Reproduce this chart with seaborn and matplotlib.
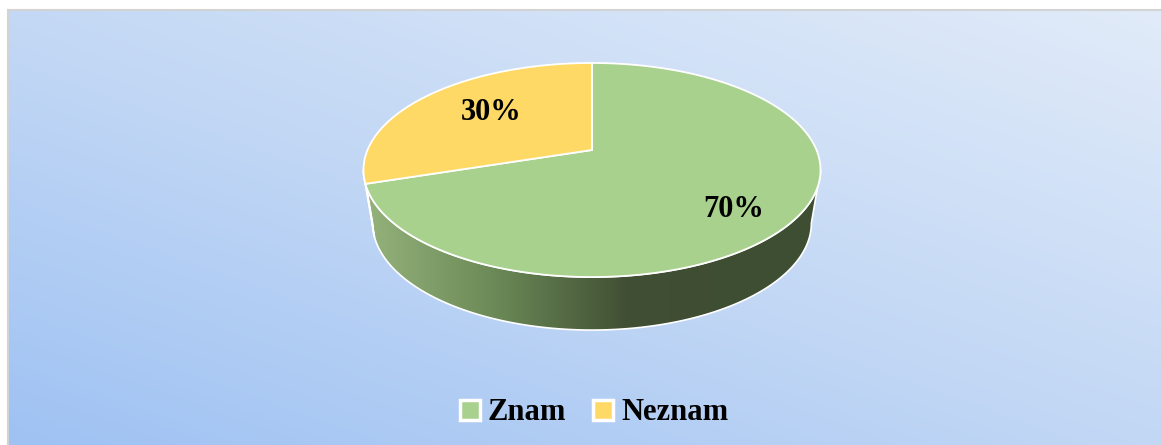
import numpy as np
import matplotlib
matplotlib.use("Agg")
import matplotlib.pyplot as plt
import matplotlib.colors as cl
from matplotlib.patches import Polygon, Patch
import seaborn as sns

# data
labels = ['Znam', 'Neznam']
shares = [70, 30]
colors = ['#a9d18e', '#ffd966']
side_colors = [['#97b47d', '#6b8a57', '#414f34', '#3e4e32'], ['#c8ab55', '#b89a45']]

sns.set_theme(style='white')
plt.rcParams['font.family'] = ['Liberation Serif', 'DejaVu Serif']

W, H = 1161, 445
fig = plt.figure(figsize=(W / 100, H / 100), dpi=100)
fig.patch.set_facecolor('white')

# background panel with diagonal gradient
bg = fig.add_axes([8 / W, 0, 1 - 8 / W, 1 - 10 / H])
xx, yy = np.meshgrid(np.linspace(8, W, 400), np.linspace(10, H, 160))
t = 0.336 * xx - 0.942 * yy
t = (t - t.min()) / (t.max() - t.min())
bg_cmap = cl.LinearSegmentedColormap.from_list('bg', ['#9fc2f3', '#c3d8f5', '#e1ebf9'])
bg.imshow(t, cmap=bg_cmap, aspect='auto', extent=[8, W, H, 10], origin='upper')
bg.set_xticks([]); bg.set_yticks([])
for s in ['right', 'bottom']:
    bg.spines[s].set_visible(False)
for s in ['left', 'top']:
    bg.spines[s].set_color('#d3d3d3')
    bg.spines[s].set_linewidth(1.5)

# pie axes in pixel space
ax = fig.add_axes([0, 0, 1, 1])
ax.set_xlim(0, W); ax.set_ylim(H, 0)
ax.axis('off')
ax.patch.set_alpha(0)

# perspective projection of the tilted disc
cx, cy = 592, 150
a, b, k = 224.5, 103.3, 0.187
depth, shrink = 53, 0.96


def proj(theta, r=1.0):
    u, v = r * np.cos(theta), r * np.sin(theta)
    d = 1 + k * v
    return cx + a * u / d, cy - b * v / d


edges = 90 - np.concatenate([[0], np.cumsum(shares)]) * 3.6   # clockwise from 12 o'clock
sil = np.degrees(np.arcsin(-k))          # right silhouette angle
front = (-180 - sil, sil)                # visible front arc

# side walls
for i in range(len(shares)):
    hi, lo = edges[i], edges[i + 1]
    for sh in (-360, 0, 360):
        s0, s1 = max(lo + sh, front[0]), min(hi + sh, front[1])
        if s1 <= s0:
            continue
        th = np.radians(np.linspace(s0, s1, 120))
        xt, yt = proj(th)
        xb, yb = cx + (xt - cx) * shrink, yt + depth
        pts = np.column_stack([np.r_[xt, xb[::-1]], np.r_[yt, yb[::-1]]])
        poly = Polygon(pts, closed=True, facecolor='none', edgecolor='white', lw=1.2, zorder=3)
        ax.add_patch(poly)
        gx = np.linspace(360, 830, 300)[None, :]
        gcm = cl.LinearSegmentedColormap.from_list('side%d' % i, side_colors[i])
        im = ax.imshow(gx, cmap=gcm, vmin=360, vmax=760, aspect='auto',
                       extent=[360, 830, 345, 140], zorder=2)
        im.set_clip_path(poly)

# top faces
for i in range(len(shares)):
    hi, lo = edges[i], edges[i + 1]
    th = np.radians(np.linspace(hi, lo, 200))
    xt, yt = proj(th)
    pts = np.column_stack([np.r_[cx, xt], np.r_[cy, yt]])
    ax.add_patch(Polygon(pts, closed=True, facecolor=colors[i], edgecolor='white', lw=1.3, zorder=4))

# percentage labels
for i in range(len(shares)):
    mid = np.radians((edges[i] + edges[i + 1]) / 2 - 5)
    x, y = proj(mid, 0.71)
    ax.text(x + 10, y + 7, '%d%%' % shares[i], ha='center', va='center', fontsize=22,
            fontweight='bold', color='black', zorder=5)

handles = [Patch(facecolor=c, edgecolor='white', linewidth=2.5) for c in colors]
fig.legend(handles, labels, loc='center', bbox_to_anchor=(594 / W, 1 - 413 / H), ncol=2,
           frameon=False, prop={'family': 'Liberation Serif', 'weight': 'bold', 'size': 22},
           labelcolor='black',
           handlelength=0.65, handleheight=0.65, handletextpad=0.25, columnspacing=0.9)

fig.savefig('out.png', dpi=100)
